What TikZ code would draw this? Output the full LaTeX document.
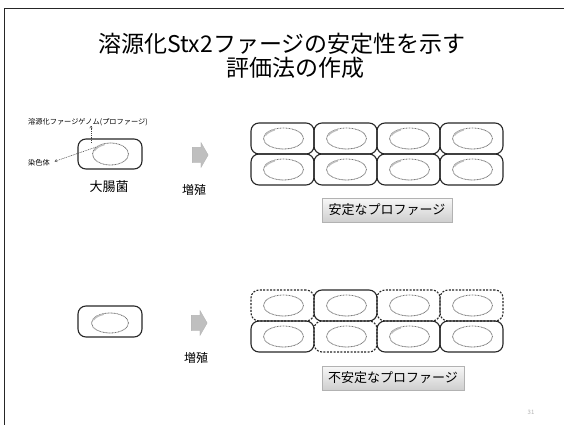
\documentclass[tikz,border=0pt]{standalone}
\usepackage{fontspec}
\setmainfont{Noto Sans CJK JP}
\usetikzlibrary{shapes.geometric,shapes.arrows,arrows.meta}
\begin{document}
\begin{tikzpicture}[x=1pt,y=-1pt,
  cell/.style={draw=black!85,line width=1.1pt,rounded corners=8pt,
    minimum width=63pt,minimum height=31pt,inner sep=0pt},
  lost/.style={cell,dash pattern=on 2pt off 1.4pt},
  chrom/.style={ellipse,draw=black!55,line width=0.8pt,
    dash pattern=on 0.9pt off 0.6pt,minimum width=40pt,minimum height=21pt,inner sep=0pt},
  phage/.style={draw=gray!50,line width=1.4pt,line cap=round},
  growarrow/.style={single arrow,fill=gray!50,draw=gray!60,line width=0.3pt,
    inner xsep=0pt,inner ysep=7.5pt,minimum height=16pt,
    single arrow head extend=5pt,single arrow tip angle=120},
  tagbox/.style={draw=gray!60,line width=0.6pt,top color=gray!6,bottom color=gray!38,
    minimum height=24pt,inner sep=0pt,font=\fontsize{13}{15}\selectfont},
  annot/.style={draw=black!75,line width=0.5pt,dash pattern=on 1pt off 0.8pt,
    -{To[length=2.5pt,width=3pt]}},
  annotext/.style={font=\fontsize{7.2}{8}\selectfont,inner sep=0pt}
]
\useasboundingbox (0,0) rectangle (564,425);

% slide frame
\draw[line width=1.5pt,black!85] (4.5,425) -- (4.5,8.5) -- (564,8.5);

% title
\node[font=\fontsize{23}{27}\selectfont,inner sep=0pt] (title1) at (282,44) {溶源化Stx2ファージの安定性を示す};
\node[font=\fontsize{23}{27}\selectfont,inner sep=0pt] (title2) at (295,68) {評価法の作成};

% single lysogen with its labels
\node[cell,minimum width=64pt,minimum height=30pt] (cellA) at (110,154) {};
\node[chrom,minimum width=36pt,minimum height=22pt] (chromA) at (110.5,154) {};
\draw[phage] (chromA.center) ++(160:17pt and 10pt)
  arc[start angle=160,end angle=112,x radius=17pt,y radius=10pt] coordinate (phA);
\coordinate (phA0) at (91,143);
\node[annotext] (proText) at (88,122) {溶源化ファージゲノム(プロファージ)};
\node[annotext] (chromText) at (39,163) {染色体};
\draw[annot] (phA0) -- (proText.south -| phA0);
\draw[annot,shorten >=5pt] (chromA.155) -- (chromText.east);
\node[font=\fontsize{13}{15}\selectfont,inner sep=0pt] (ecoli) at (109,187) {大腸菌};

% growth arrows
\node[growarrow] (growA) at (198,155) {};
\node[font=\fontsize{12}{14}\selectfont,inner sep=0pt] (growTextA) at (194,190) {増殖};

% stable prophage: every daughter cell keeps it
\foreach \c/\x in {1/282.5,2/345.5,3/408.5,4/471.5}{
  \foreach \r/\y in {1/138.5,2/169.5}{
    \node[cell] (t\r\c) at (\x,\y) {};
    \node[chrom] (te\r\c) at ([xshift=1pt]t\r\c.center) {};
    \draw[phage] (te\r\c.center) ++(160:19pt and 9.7pt)
      arc[start angle=160,end angle=118,x radius=19pt,y radius=9.7pt];
  }
}
\node[tagbox,minimum width=130pt] (stableTag) at (387,210) {安定なプロファージ};

% second lysogen
\node[cell,minimum width=64pt,minimum height=31pt] (cellB) at (110,321.5) {};
\node[chrom,minimum width=37pt,minimum height=20pt] (chromB) at (110,323) {};
\draw[phage] (chromB.center) ++(160:17.5pt and 9.3pt)
  arc[start angle=160,end angle=112,x radius=17.5pt,y radius=9.3pt];

\node[growarrow] (growB) at (197,323) {};
\node[font=\fontsize{12}{14}\selectfont,inner sep=0pt] (growTextB) at (196,358) {増殖};

% unstable prophage: cells that lost it are dashed
\foreach \r/\c/\x/\y/\s in {1/1/282.5/305.5/lost,1/2/345.5/305.5/cell,
    1/3/408.5/305.5/lost,1/4/471.5/305.5/lost,
    2/1/282.5/336.5/cell,2/2/345.5/336.5/lost,
    2/3/408.5/336.5/cell,2/4/471.5/336.5/cell}{
  \node[\s] (b\r\c) at (\x,\y) {};
  \node[chrom] (be\r\c) at ([xshift=1pt]b\r\c.center) {};
}
\draw[phage] (be23.center) ++(160:19pt and 9.7pt)
  arc[start angle=160,end angle=118,x radius=19pt,y radius=9.7pt];
\node[tagbox,minimum width=142pt] (unstableTag) at (393,378) {不安定なプロファージ};

% page number
\node[font=\fontsize{6}{7}\selectfont,text=gray!60,inner sep=0pt] (pageNo) at (531,412) {31};
\end{tikzpicture}
\end{document}
